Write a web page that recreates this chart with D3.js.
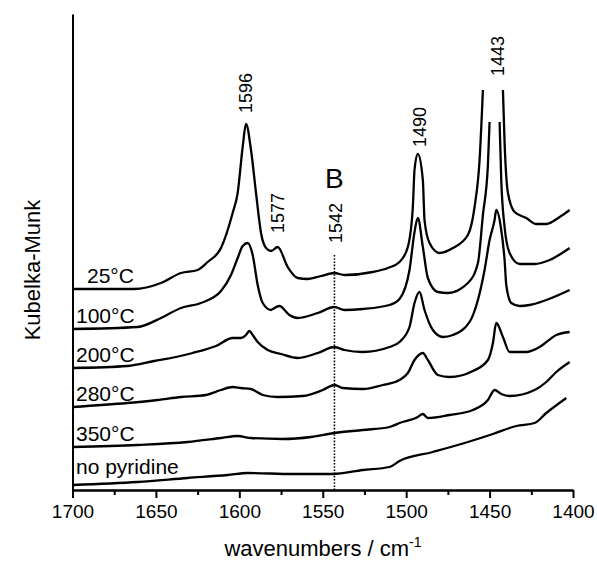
<!DOCTYPE html>
<html lang="en">
<head>
  <meta charset="utf-8" />
  <title>Kubelka-Munk spectra</title>
  <script src="https://cdnjs.cloudflare.com/ajax/libs/d3/7.8.5/d3.min.js"></script>
  <style>
    body { margin: 0; background: #fff; }
    svg { display: block; font-family: Arial, 'Liberation Sans', sans-serif; }
    .curve { fill: none; stroke: #000; stroke-width: 2.3; stroke-linejoin: round; }
    .axis path, .axis line { stroke: #000; stroke-width: 2; }
    .axis text { font-size: 19px; fill: #000; font-family: Arial, 'Liberation Sans', sans-serif; }
  </style>
</head>
<body>
<svg id="chart" width="597" height="562"></svg>
<script>
// spectra: [wavenumber, K-M (arb.)], null = clipped peak top
const s25 = [[1700,201],[1663,201],[1647,207],[1635,217],[1625,220],[1619,228],[1611,242],[1604,277],
  [1601,297],[1598,343],[1596,366],[1593,340],[1590,297],[1587,257],[1584,242],[1581,239],[1577,243],
  [1571,223],[1565,212],[1559,211],[1551,214],[1543,217],[1537,215],[1520,218],[1511,222],[1504,228],
  [1499,243],[1496,283],[1495,320],[1493,336],[1490,310],[1489,270],[1486,247],[1480,237],[1472,242],
  [1463,255],[1459,283],[1456,330],[1454,400],[1448,null],[1442,400],[1441,347],[1439,297],[1435,278],
  [1428,272],[1422,266],[1416,266],[1408,273],[1402,280]];
const s100 = [[1700,161],[1661,163],[1647,172],[1635,182],[1623,187],[1611,199],[1605,215],[1601,232],
  [1598,244],[1595,247],[1592,235],[1589,205],[1586,187],[1581,180],[1580,181],[1576,184],[1570,175],
  [1565,172],[1553,177],[1543,183],[1537,180],[1526,181],[1510,185],[1504,191],[1498,220],[1495,258],
  [1493,272],[1490,243],[1487,212],[1481,198],[1475,197],[1463,207],[1457,227],[1454,275],[1451,325],
  [1450,368],[1447,null],[1444,368],[1443,310],[1441,263],[1438,237],[1432,226],[1423,226],[1414,230],
  [1402,242]];
const s200 = [[1700,122],[1667,124],[1651,129],[1638,133],[1628,137],[1614,144],[1604,152],[1599,152],
  [1596,155],[1594,159],[1592,155],[1589,148],[1583,140],[1575,136],[1565,132],[1553,137],[1543,143],
  [1537,140],[1526,138],[1510,143],[1504,148],[1498,163],[1495,187],[1492,198],[1489,180],[1484,160],
  [1478,153],[1472,155],[1462,168],[1457,190],[1453,220],[1450,250],[1447,270],[1446,280],[1443,260],
  [1441,230],[1440,205],[1437,187],[1432,184],[1426,185],[1416,190],[1402,200]];
const s280 = [[1700,83],[1667,87],[1649,90],[1635,93],[1620,95],[1611,100],[1604,103],[1599,102],
  [1593,101],[1586,95],[1577,93],[1562,94],[1550,100],[1543,105],[1538,102],[1526,101],[1514,105],
  [1504,110],[1499,117],[1495,130],[1490,137],[1487,130],[1481,115],[1474,113],[1460,119],[1451,130],
  [1448,147],[1446,167],[1442,153],[1438,138],[1428,138],[1420,143],[1410,155],[1402,158]];
const s350 = [[1700,43],[1661,45],[1631,48],[1611,52],[1601,54],[1593,52],[1574,51],[1557,53],
  [1543,57],[1526,60],[1510,63],[1504,67],[1493,73],[1490,76],[1487,72],[1474,75],[1460,80],[1451,90],
  [1447,100],[1443,96],[1438,94],[1423,100],[1416,108],[1410,118],[1402,128]];
const sNone = [[1700,5],[1661,8],[1631,12],[1607,15],[1595,17],[1568,16],[1544,16],[1526,20],[1510,23],
  [1504,29],[1484,38],[1463,48],[1448,56],[1434,64],[1423,67],[1416,77],[1404,92]];

const seriesNames = ["25°C", "100°C", "200°C", "280°C", "350°C", "no pyridine"];
const seriesData = [s25, s100, s200, s280, s350, sNone];

const majorTicks = [1700, 1650, 1600, 1550, 1500, 1450, 1400];
const minorTicks = [1675, 1625, 1575, 1525, 1475, 1425];

// peak labels: [text, wavenumber, level of label base]
const peakLabels = [["1596", 1596, 377], ["1577", 1577, 257], ["1542", 1542, 247],
  ["1490", 1492, 343], ["1443", 1445, 414]];
const bandLine = 1543;   // dotted marker of the B band
const bandTop = 235;

const svg = d3.select("#chart");
const x = d3.scaleLinear().domain([1700, 1400]).range([72.5, 573]);
const y = d3.scaleLinear().domain([0, 476]).range([490, 14]);

const line = d3.line()
  .defined(d => d[1] != null)
  .x(d => x(d[0]))
  .y(d => y(d[1]))
  .curve(d3.curveMonotoneX);

seriesData.forEach(s => {
  svg.append("path").attr("class", "curve").attr("d", line(s));
});

// temperature labels sit just above the start of each curve
seriesData.forEach((s, i) => {
  svg.append("text")
    .attr("x", i === 0 ? 87 : 76)
    .attr("y", y(s[0][1]) - (i === 5 ? 11 : 6))
    .attr("font-size", 21)
    .text(seriesNames[i]);
});

// dotted B-band marker
svg.append("line")
  .attr("x1", x(bandLine)).attr("x2", x(bandLine))
  .attr("y1", y(bandTop)).attr("y2", y(0))
  .attr("stroke", "#000").attr("stroke-width", 1.6)
  .attr("stroke-dasharray", "1.6,1.6");

svg.append("text")
  .attr("x", x(bandLine)).attr("y", 188)
  .attr("text-anchor", "middle")
  .attr("font-size", 28)
  .text("B");

peakLabels.forEach(([t, w, lv]) => {
  svg.append("text")
    .attr("transform", `translate(${x(w) + 6},${y(lv)}) rotate(-90)`)
    .attr("font-size", 18)
    .text(t);
});

// axes
svg.append("g").attr("class", "axis")
  .attr("transform", `translate(0,${y(0)})`)
  .call(d3.axisBottom(x).tickValues(majorTicks).tickSize(8).tickSizeOuter(0).tickPadding(7).tickFormat(d3.format("d")));
svg.append("g").attr("class", "axis")
  .attr("transform", `translate(0,${y(0)})`)
  .call(d3.axisBottom(x).tickValues(minorTicks).tickSize(5).tickSizeOuter(0).tickFormat(""));
svg.append("g").attr("class", "axis")
  .attr("transform", `translate(${x(1700)},0)`)
  .call(d3.axisLeft(y).tickValues([]).tickSizeOuter(0));

const xt = svg.append("text")
  .attr("x", 323).attr("y", 556)
  .attr("text-anchor", "middle")
  .attr("font-size", 22);
xt.append("tspan").text("wavenumbers / cm");
xt.append("tspan").attr("dy", -9).attr("font-size", 14).text("-1");

svg.append("text")
  .attr("transform", "translate(40,270) rotate(-90)")
  .attr("text-anchor", "middle")
  .attr("font-size", 22)
  .text("Kubelka-Munk");
</script>
</body>
</html>
